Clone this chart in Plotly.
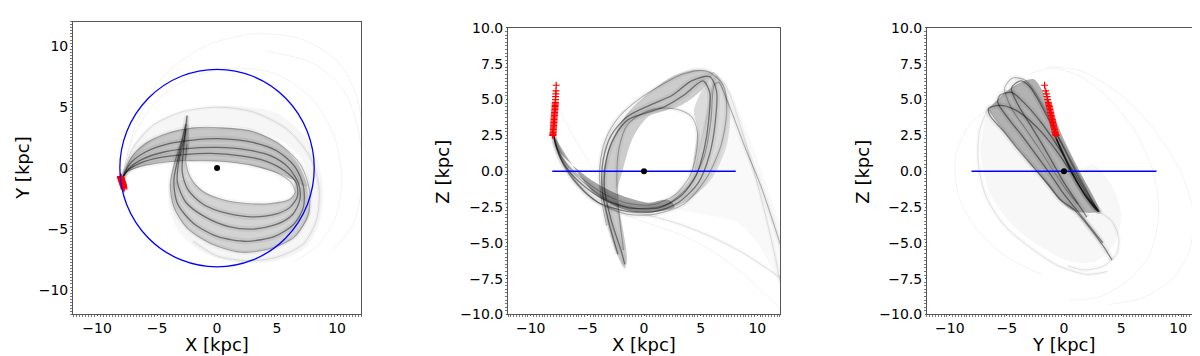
import plotly.graph_objects as go

# X-Y plane
xy_a1 = ([-7.95, -7.5, -6.5, -5.0, -3.0, -1.0, 1.0, 3.0, 5.0, 6.2, 6.5, 6.0, 4.5, 2.5, 0.5, -1.2, -2.2, -2.6, -2.5],
         [-0.9, -0.3, 0.1, 0.4, 0.6, 0.6, 0.5, 0.2, -0.4, -1.2, -2.0, -2.6, -2.9, -2.9, -2.6, -1.9, -0.8, 0.6, 2.0])
xy_a9 = ([-7.95, -7.45, -6.4, -4.8, -2.8, -0.5, 2.0, 4.0, 5.6, 6.6, 6.7, 6.1, 4.8, 2.8, 0.8, -1.1, -2.4, -2.9, -2.8, -2.6],
         [-0.95, -0.2, 0.4, 0.85, 1.1, 1.2, 1.0, 0.6, -0.2, -1.2, -2.3, -3.2, -3.8, -4.0, -3.7, -3.0, -1.8, -0.3, 1.5, 3.2])
xy_a2 = ([-7.95, -7.4, -6.3, -4.5, -2.5, 0.0, 2.5, 4.5, 6.0, 6.8, 6.9, 6.3, 5.0, 3.0, 1.0, -1.0, -2.6, -3.3, -3.2, -2.7, -2.5],
         [-1.0, -0.1, 0.7, 1.3, 1.6, 1.7, 1.5, 1.0, 0.0, -1.3, -2.6, -3.8, -4.6, -5.0, -4.8, -4.0, -2.8, -1.2, 0.5, 2.6, 4.3])
xy_a3 = ([-7.95, -7.3, -6.0, -4.0, -2.0, 0.5, 3.0, 5.0, 6.5, 7.2, 7.2, 6.4, 4.8, 2.5, 0.0, -2.0, -3.3, -3.6, -3.2, -2.6],
         [-1.0, 0.3, 1.3, 2.0, 2.3, 2.4, 2.1, 1.4, 0.1, -1.5, -3.2, -4.6, -5.6, -6.0, -5.6, -4.5, -2.9, -1.0, 1.0, 3.6])
xy_a4 = ([-7.95, -7.2, -6.0, -4.0, -2.0, 0.5, 3.0, 5.3, 7.0, 7.7, 7.6, 6.5, 4.5, 2.0, -0.5, -2.5, -3.6, -3.9, -3.5, -2.9],
         [-1.0, 0.8, 2.0, 2.9, 3.3, 3.3, 3.0, 1.9, 0.2, -1.8, -3.8, -5.6, -6.6, -6.9, -6.2, -4.9, -3.2, -1.3, 0.6, 2.4])
xy_a5 = ([-7.95, -7.1, -5.5, -3.0, 0.0, 3.0, 5.8, 7.7, 8.5, 8.3, 7.2, 5.0, 2.5, 0.0, -2.0],
         [-1.0, 1.5, 3.4, 4.6, 5.0, 4.6, 3.2, 1.0, -1.6, -4.2, -6.2, -7.3, -7.6, -7.2, -6.0])
xy_a6 = ([-7.95, -7.0, -5.0, -2.0, 1.5, 5.0, 8.0, 9.8, 10.4, 9.8, 8.2, 6.5],
         [-1.0, 2.5, 5.6, 7.5, 8.2, 7.7, 5.6, 2.5, -1.0, -4.2, -6.5, -7.6])
xy_a7 = ([-7.9, -6.8, -4.5, -1.0, 3.0, 7.0, 10.0, 11.6, 12.3],
         [-0.8, 3.5, 7.5, 10.0, 11.0, 10.6, 8.8, 6.0, 2.0])
xy_a8 = ([4.0, 8.0, 10.5, 11.8, 12.1, 11.4, 9.6],
         [9.6, 8.6, 6.5, 3.0, -1.0, -4.5, -6.8])

# X-Y shaded bands (outline of the dense bundles)
xy_band_up = ([-7.95, -7.2, -6.0, -4.0, -2.0, 0.5, 3.0, 5.3, 6.8, 7.5, 6.4, 5.0, 3.0, 1.0, -1.0, -3.0, -5.0, -6.5, -7.5],
              [-1.0, 0.8, 2.0, 2.9, 3.3, 3.3, 3.0, 1.9, 0.3, -1.5, -1.0, -0.4, 0.2, 0.5, 0.6, 0.6, 0.4, 0.1, -0.3])
xy_band_low = ([7.5, 7.7, 6.5, 4.5, 2.0, -0.5, -2.5, -3.6, -3.9, -3.5, -2.9, -2.5, -2.3, -2.6, -2.2, -1.2, 0.5, 2.5, 4.5, 6.0, 6.5, 6.4],
               [-1.5, -3.8, -5.6, -6.6, -6.9, -6.2, -4.9, -3.2, -1.3, 0.6, 2.4, 4.4, 2.0, 0.5, -0.8, -1.9, -2.6, -2.9, -2.9, -2.6, -2.0, -1.0])
xy_halo = ([-7.95, -7.0, -5.0, -2.0, 1.5, 5.0, 7.8, 8.8, 8.6, 7.4, 5.0, 2.0, -1.0, -3.2, -4.0, -3.9, -2.5, 0.0, 3.0, 6.0, 7.5, 7.0, 5.0, 2.0, -2.0, -5.0, -7.0],
           [-1.0, 1.8, 3.8, 4.8, 5.1, 4.5, 2.0, -1.2, -4.3, -6.5, -7.6, -7.8, -7.0, -5.2, -3.0, -1.3, -1.0, -2.5, -3.0, -2.5, -1.2, 0.8, 2.4, 3.3, 3.4, 2.5, 0.6])

# X-Z plane
xz_b1 = ([-8.0, -7.6, -6.8, -5.0, -3.0, -1.0, 1.0, 2.8, 4.0, 4.6, 4.7, 4.2, 3.0, 1.5, 0.0, -1.5, -2.2, -2.4, -2.2, -1.8],
         [2.6, 1.5, 0.5, -0.8, -1.8, -2.3, -2.3, -1.6, -0.4, 1.2, 2.8, 3.8, 4.3, 4.4, 4.1, 3.2, 1.6, -0.5, -3.0, -5.5])
xz_b2 = ([-8.0, -7.7, -7.0, -5.5, -3.5, -1.0, 1.5, 3.3, 4.6, 5.3, 5.7, 5.8, 5.2, 3.5, 1.8, 0.3, -1.4, -2.6, -3.3, -3.5, -2.9, -2.0, -1.7],
         [2.6, 1.6, 0.4, -0.9, -2.0, -2.6, -2.5, -1.7, -0.3, 1.5, 3.5, 5.5, 6.3, 5.3, 4.5, 4.1, 3.6, 2.4, 0.9, -1.1, -3.4, -5.6, -6.5])
xz_b3 = ([-8.0, -7.8, -7.2, -5.8, -4.0, -1.5, 1.0, 3.0, 4.8, 5.8, 6.3, 6.4, 5.8, 4.2, 2.5, 0.5, -1.5, -2.9, -3.6, -3.7, -3.1, -2.3],
         [2.6, 1.8, 0.6, -1.0, -2.2, -2.8, -2.8, -2.2, -0.8, 1.2, 3.5, 5.6, 6.6, 6.3, 5.3, 4.6, 3.8, 2.5, 0.8, -1.3, -3.6, -5.8])
xz_b4 = ([-8.0, -7.8, -7.2, -5.8, -4.0, -1.5, 1.0, 3.5, 5.5, 6.8, 7.3, 7.0, 5.5, 3.5, 1.5, -0.5, -2.2, -3.4, -3.9, -3.8, -3.3],
         [2.6, 1.9, 0.8, -0.9, -2.2, -3.0, -3.0, -2.3, -0.5, 1.8, 4.2, 6.0, 7.0, 6.8, 6.0, 5.0, 3.8, 2.2, 0.3, -1.7, -3.8])
xz_b5 = ([-8.0, -7.7, -6.8, -5.0, -3.0, -0.5, 2.0, 4.0, 5.3, 5.9, 6.2, 6.6, 7.3, 8.0, 9.0, 10.3, 11.5, 12.3],
         [2.6, 1.7, 0.4, -1.0, -2.1, -2.6, -2.3, -1.0, 1.0, 3.5, 6.0, 6.2, 5.0, 3.6, 1.5, -1.0, -3.8, -5.8])
xz_b6 = ([4.5, 5.6, 6.4, 7.2, 8.5, 9.7, 10.8, 11.8, 12.3],
         [0.0, 4.0, 6.6, 6.0, 3.2, 0.0, -3.3, -6.8, -9.0])
xz_b7 = ([-3.0, -1.0, 1.0, 3.5, 6.0, 8.5, 10.5, 12.3],
         [-2.3, -2.8, -3.2, -3.8, -4.6, -5.6, -6.6, -7.6])
xz_b8 = ([-5.0, -3.0, -0.5, 2.5, 5.5, 8.5, 11.0, 12.3],
         [-1.1, -2.5, -3.4, -4.2, -5.3, -7.0, -8.8, -9.8])
xz_b9 = ([-3.5, -3.0, -1.5, 0.5, 2.5, 4.5, 6.0],
         [-1.0, 1.8, 4.0, 5.5, 6.6, 7.2, 7.0])
xz_b10 = ([-7.8, -6.5, -5.0, -3.5, -2.0],
          [4.8, 2.8, 0.8, -1.2, -2.6])

# X-Z shaded bands
xz_band_in = ([-8.0, -7.6, -4.9, -2.3, 0.35, 2.1, 2.7, 0.35, -1.7, -4.3, -6.7, -7.95],
              [2.6, 1.5, -0.47, -1.6, -2.2, -2.0, -2.5, -2.9, -2.7, -1.6, 0.87, 2.5])
xz_band_right = ([2.1, 3.9, 4.5, 4.7, 4.4, 5.0, 5.9, 6.2, 7.0, 7.6, 7.3, 6.0, 4.0, 2.7],
                 [-2.0, -0.7, 1.5, 3.0, 4.2, 5.5, 6.6, 6.9, 6.0, 4.2, 1.8, -0.5, -2.0, -2.5])
xz_band_back = ([6.2, 4.5, 2.5, 0.5, -1.5, -3.0, -3.6, -3.7, -3.3, -2.4, -1.7, -1.5, -2.0, -2.4, -1.9, -1.0, 0.35, 1.8, 3.3, 5.0, 5.9],
                [6.9, 7.1, 6.6, 5.5, 4.0, 1.8, 0.0, -1.3, -3.5, -5.8, -6.8, -6.0, -3.5, -1.5, 0.0, 2.3, 3.8, 4.2, 4.6, 5.6, 6.6])
xz_halo = ([6.2, 7.6, 9.5, 11.5, 12.2, 12.2, 10.0, 8.0, 5.0, 2.7, 6.0, 7.3, 7.6],
           [6.9, 5.5, 2.0, -2.5, -4.0, -8.0, -5.0, -3.5, -3.0, -2.5, -0.5, 1.8, 4.2])

# Y-Z plane
yz_c1 = ([-0.8, -0.2, 0.6, 1.6, 2.5, 3.0, 2.4, 1.2, 0.0, -1.2, -2.2, -3.0, -3.8, -4.6, -4.0, -3.0, -2.0, -1.0, 0.0, 1.0, 2.0],
         [2.5, 1.4, 0.0, -1.4, -2.4, -2.8, -2.0, -0.3, 1.6, 3.4, 4.9, 5.9, 6.3, 5.8, 4.6, 3.3, 2.0, 0.6, -0.8, -2.0, -3.2])
yz_c2 = ([-0.8, -0.1, 0.7, 1.7, 2.6, 3.0, 2.2, 0.8, -0.6, -2.0, -3.4, -4.6, -5.6, -5.8, -4.8, -3.6, -2.4, -1.2, -0.1, 1.0, 2.2, 3.4],
         [2.5, 1.3, -0.1, -1.5, -2.5, -2.8, -1.9, 0.0, 1.8, 3.4, 4.7, 5.5, 5.3, 4.8, 3.6, 2.4, 1.1, -0.2, -1.5, -2.6, -3.8, -5.0])
yz_c3 = ([-0.8, -0.1, 0.8, 1.8, 2.7, 3.1, 2.0, 0.4, -1.2, -2.8, -4.3, -5.6, -6.6, -6.5, -5.3, -4.0, -2.6, -1.3, -0.3, 0.9, 2.2, 3.5, 4.2],
         [2.5, 1.2, -0.2, -1.6, -2.5, -2.8, -1.8, 0.2, 2.0, 3.4, 4.3, 4.6, 4.4, 3.9, 2.8, 1.5, 0.2, -1.0, -2.0, -2.7, -3.9, -5.3, -6.2])
yz_c4 = ([-0.8, 0.0, 0.8, 1.8, 2.7, 3.0, 2.3, 1.0, -0.4, -1.6, -2.6, -3.5, -4.5, -5.2, -4.6, -3.4, -2.2, -1.0, 0.2, 1.2],
         [2.5, 1.2, -0.2, -1.6, -2.5, -2.8, -1.8, 0.2, 2.3, 4.2, 5.6, 6.4, 6.5, 5.8, 4.4, 3.0, 1.6, 0.1, -1.3, -2.3])
yz_c5 = ([-6.7, -7.4, -7.5, -6.8, -5.2, -3.0, -0.5, 2.0, 3.8],
         [4.3, 2.8, 0.5, -1.8, -3.8, -5.3, -6.6, -7.2, -7.0])
yz_c6 = ([-3.0, -1.0, 1.5, 4.0, 6.2, 7.8, 8.3, 7.5, 5.5, 3.0, 0.5],
         [6.8, 7.2, 6.6, 5.0, 2.8, 0.0, -3.0, -5.8, -7.7, -8.8, -9.0])
yz_c7 = ([-1.5, 1.5, 5.0, 8.0, 10.2, 11.3, 11.0, 9.5, 7.0, 4.0],
         [7.3, 7.0, 5.3, 2.8, 0.0, -2.8, -5.5, -7.5, -8.8, -9.3])
yz_c8 = ([3.0, 4.2, 4.8, 4.6, 3.5, 1.8, 0.3],
         [-2.8, -3.5, -4.7, -5.8, -6.6, -6.9, -6.6])
yz_c9 = ([-6.7, -8.3, -9.5, -9.2, -7.5, -5.0, -2.0],
         [4.3, 3.2, 1.0, -1.8, -4.2, -6.0, -7.2])

# Y-Z shaded bands
yz_band = ([-6.7, -5.0, -3.5, -2.6, -1.5, 0.0, 1.5, 3.1, 2.6, 0.9, -0.3, -2.6, -5.3],
           [4.3, 5.6, 6.3, 6.4, 5.0, 2.2, -0.2, -2.8, -2.9, -2.8, -2.1, 0.2, 2.8])
yz_halo = ([-6.7, -7.3, -6.5, -4.5, -2.0, 0.5, 2.8, 4.5, 5.0, 4.2, 2.5, 1.5, 3.1, 0.9, -2.6, -5.3],
           [4.3, 1.5, -1.5, -3.8, -5.3, -6.3, -6.3, -5.0, -3.0, -1.0, 0.5, -0.2, -2.8, -2.8, 0.2, 2.8])

# starting positions of the stars (red crosses)
star_x = [-8.05, -8.04, -8.03, -8.02, -8.01, -8.0, -7.99, -7.98, -7.97, -7.97, -7.96, -7.95, -7.94, -7.93, -7.92,
          -7.91, -7.9, -7.89, -7.88, -7.87, -7.86, -7.85, -7.84, -7.83, -7.82, -7.81, -7.8, -7.78, -7.77, -7.75]
star_y = [-0.7, -0.72, -0.75, -0.78, -0.8, -0.83, -0.86, -0.9, -0.92, -0.95, -0.98, -1.0, -1.03, -1.06, -1.09,
          -1.12, -1.15, -1.18, -1.2, -1.23, -1.26, -1.29, -1.32, -1.35, -1.38, -1.43, -1.48, -1.54, -1.6, -1.7]
star_z = [2.5, 2.55, 2.6, 2.7, 2.8, 2.9, 3.0, 3.1, 3.2, 3.3, 3.4, 3.5, 3.6, 3.7, 3.8,
          3.9, 4.0, 4.1, 4.2, 4.3, 4.4, 4.5, 4.6, 4.7, 4.8, 5.0, 5.2, 5.4, 5.6, 6.0]

r_sun = 8.1

# strand weight: 0 = dense core, 1 = medium, 2 = faint, 3 = faintest
xy_strands = [(xy_a1, 1), (xy_a9, 0), (xy_a2, 0), (xy_a3, 0), (xy_a4, 1), (xy_a5, 2), (xy_a6, 3), (xy_a7, 3), (xy_a8, 3)]
xz_strands = [(xz_b1, 1), (xz_b2, 0), (xz_b3, 0), (xz_b4, 1), (xz_b5, 1), (xz_b6, 2), (xz_b7, 2), (xz_b8, 3), (xz_b9, 3), (xz_b10, 3)]
yz_strands = [(yz_c1, 0), (yz_c2, 0), (yz_c3, 0), (yz_c4, 1), (yz_c5, 2), (yz_c6, 3), (yz_c7, 3), (yz_c8, 2), (yz_c9, 3)]

xy_bands = [(xy_halo, 0.035), (xy_band_up, 0.22), (xy_band_low, 0.14)]
xz_bands = [(xz_halo, 0.025), (xz_band_in, 0.35), (xz_band_right, 0.14), (xz_band_back, 0.2)]
yz_bands = [(yz_halo, 0.03), (yz_band, 0.3)]

passes = {
    0: [(6, 0.06), (1.3, 0.45)],
    1: [(5, 0.04), (1.1, 0.28)],
    2: [(4, 0.025), (1, 0.10)],
    3: [(1, 0.05)],
}

fig = go.Figure()


def add_bands(bands, xa, ya):
    for (bx, by), a in bands:
        fig.add_trace(go.Scatter(x=bx, y=by, mode='lines', fill='toself', xaxis=xa, yaxis=ya,
                                 fillcolor=f'rgba(0,0,0,{a})', line=dict(width=0, shape='spline', smoothing=0.8),
                                 hoverinfo='skip', showlegend=False))


def add_strands(strands, xa, ya):
    for (sx, sy), level in strands:
        for w, a in passes[level]:
            fig.add_trace(go.Scatter(x=sx, y=sy, mode='lines', xaxis=xa, yaxis=ya,
                                     line=dict(color=f'rgba(0,0,0,{a})', width=w, shape='spline', smoothing=0.8),
                                     hoverinfo='skip', showlegend=False))


add_bands(xy_bands, 'x', 'y')
add_bands(xz_bands, 'x2', 'y2')
add_bands(yz_bands, 'x3', 'y3')
add_strands(xy_strands, 'x', 'y')
add_strands(xz_strands, 'x2', 'y2')
add_strands(yz_strands, 'x3', 'y3')

# disc plane lines
for xa, ya in [('x2', 'y2'), ('x3', 'y3')]:
    fig.add_trace(go.Scatter(x=[-r_sun, r_sun], y=[0, 0], mode='lines', xaxis=xa, yaxis=ya,
                             line=dict(color='#0000ff', width=1.6), hoverinfo='skip', showlegend=False))

# galactic centre
for xa, ya in [('x', 'y'), ('x2', 'y2'), ('x3', 'y3')]:
    fig.add_trace(go.Scatter(x=[0], y=[0], mode='markers', xaxis=xa, yaxis=ya,
                             marker=dict(color='black', size=6), hoverinfo='skip', showlegend=False))

# stars
for sx, sy, xa, ya in [(star_x, star_y, 'x', 'y'), (star_x, star_z, 'x2', 'y2'), (star_y, star_z, 'x3', 'y3')]:
    fig.add_trace(go.Scatter(x=sx, y=sy, mode='markers', xaxis=xa, yaxis=ya,
                             marker=dict(symbol='cross-thin', size=5, line=dict(color='red', width=1.2)),
                             hoverinfo='skip', showlegend=False))

fig.add_shape(type='circle', xref='x', yref='y', x0=-r_sun, x1=r_sun, y0=-r_sun, y1=r_sun,
              line=dict(color='#0000ff', width=1.3))

axis_style = dict(showline=True, mirror=True, linecolor='#555', linewidth=1, showgrid=False, zeroline=False,
                  ticks='outside', ticklen=1, tickcolor='#555',
                  minor=dict(ticks='outside', ticklen=2, dtick=0.25, tickcolor='#777'),
                  tickfont=dict(family='DejaVu Sans', size=14, color='black'))

title_font = dict(family='DejaVu Sans', size=18, color='black')
for text, px in [('X [kpc]', 209), ('X [kpc]', 636), ('Y [kpc]', 1056)]:
    fig.add_annotation(text=text, xref='paper', yref='paper', x=px / 1200, y=0, xanchor='center', yanchor='bottom',
                       height=20, valign='bottom', showarrow=False, font=title_font, borderpad=0)
for text, px, py in [('Y [kpc]', 15, 159), ('Z [kpc]', 435, 163), ('Z [kpc]', 855, 163)]:
    fig.add_annotation(text=text, xref='paper', yref='paper', x=px / 1200, y=1 - py / 356,
                       xanchor='center', yanchor='middle', textangle=-90, showarrow=False, font=title_font)

fig.update_layout(
    width=1200, height=356, margin=dict(l=0, r=0, t=0, b=0),
    plot_bgcolor='white', paper_bgcolor='white',
    xaxis=dict(domain=[0.0542, 0.2942], anchor='y', range=[-12, 12], dtick=5, **axis_style),
    yaxis=dict(domain=[0.1222, 0.9831], anchor='x', range=[-12, 12], dtick=5, **axis_style),
    xaxis2=dict(domain=[0.4167, 0.6433], anchor='y2', range=[-12, 12], dtick=5, **axis_style),
    yaxis2=dict(domain=[0.1222, 0.9649], anchor='x2', range=[-10, 10], dtick=2.5, tickformat='.1f', **axis_style),
    xaxis3=dict(domain=[0.7658, 0.9942], anchor='y3', range=[-12, 12], dtick=5, **axis_style),
    yaxis3=dict(domain=[0.1222, 0.9649], anchor='x3', range=[-10, 10], dtick=2.5, tickformat='.1f', **axis_style),
)

fig.write_html("out.html")
